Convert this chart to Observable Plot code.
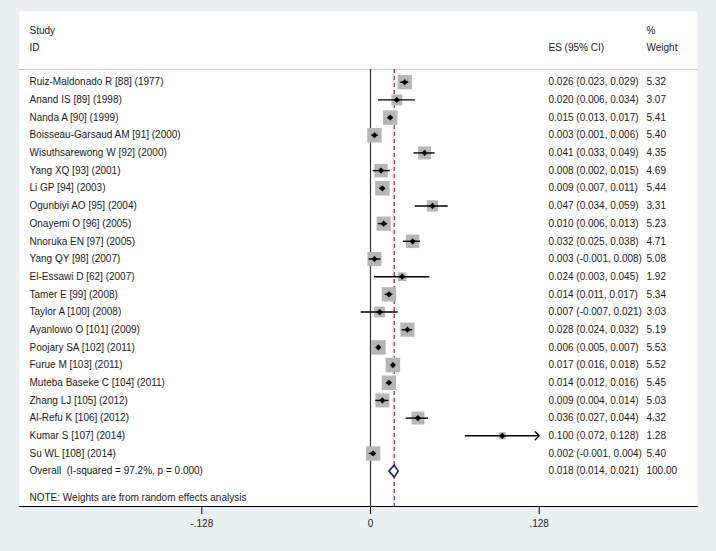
<!DOCTYPE html>
<html><head><meta charset="utf-8">
<script src="https://cdn.jsdelivr.net/npm/d3@7"></script>
<script src="https://cdn.jsdelivr.net/npm/@observablehq/plot@0.6"></script>
<style>
html,body{margin:0;padding:0;background:#e8f0f2;}
#chart svg{display:block;}
</style></head><body><div id="chart"></div>
<script>
// ---- data ----
const studyIds = [
  "Ruiz-Maldonado R [88] (1977)",
  "Anand IS [89] (1998)",
  "Nanda A [90] (1999)",
  "Boisseau-Garsaud AM [91] (2000)",
  "Wisuthsarewong W [92] (2000)",
  "Yang XQ [93] (2001)",
  "Li GP [94] (2003)",
  "Ogunbiyi AO [95] (2004)",
  "Onayemi O [96] (2005)",
  "Nnoruka EN [97] (2005)",
  "Yang QY [98] (2007)",
  "El-Essawi D [62] (2007)",
  "Tamer E [99] (2008)",
  "Taylor A [100] (2008)",
  "Ayanlowo O [101] (2009)",
  "Poojary SA [102] (2011)",
  "Furue M [103] (2011)",
  "Muteba Baseke C [104] (2011)",
  "Zhang LJ [105] (2012)",
  "Al-Refu K [106] (2012)",
  "Kumar S [107] (2014)",
  "Su WL [108] (2014)"
];
const es     = [0.026, 0.020, 0.015, 0.003, 0.041, 0.008, 0.009, 0.047, 0.010, 0.032, 0.003, 0.024, 0.014, 0.007, 0.028, 0.006, 0.017, 0.014, 0.009, 0.036, 0.100, 0.002];
const lower  = [0.023, 0.006, 0.013, 0.001, 0.033, 0.002, 0.007, 0.034, 0.006, 0.025, -0.001, 0.003, 0.011, -0.007, 0.024, 0.005, 0.016, 0.012, 0.004, 0.027, 0.072, -0.001];
const upper  = [0.029, 0.034, 0.017, 0.006, 0.049, 0.015, 0.011, 0.059, 0.013, 0.038, 0.008, 0.045, 0.017, 0.021, 0.032, 0.007, 0.018, 0.016, 0.014, 0.044, 0.128, 0.004];
const weights = [5.32, 3.07, 5.41, 5.40, 4.35, 4.69, 5.44, 3.31, 5.23, 4.71, 5.08, 1.92, 5.34, 3.03, 5.19, 5.53, 5.52, 5.45, 5.03, 4.32, 1.28, 5.40];
const overallLabel = "Overall  (I-squared = 97.2%, p = 0.000)";
const overallEs = 0.018, overallLo = 0.014, overallHi = 0.021, overallW = 100.00;
const xTicks = [-0.128, 0, 0.128];
const headerLeft = ["Study", "ID"];
const headerEs = "ES (95% CI)";
const headerW = ["%", "Weight"];
const noteText = "NOTE: Weights are from random effects analysis";

// ---- derived table ----
const rows = studyIds.map((id, i) => ({id, es: es[i], lo: lower[i], hi: upper[i], w: weights[i], row: i}));
const overallRow = rows.length;
const overall = [{id: overallLabel, es: overallEs, lo: overallLo, hi: overallHi, w: overallW, row: overallRow}];
const ciText = d => `${d.es.toFixed(3)} (${d.lo.toFixed(3)}, ${d.hi.toFixed(3)})`;
const wText = d => d.w.toFixed(2);
const xMax = d3.max(xTicks);
const sepRow = -0.72, yTop = -4, yBottom = 24;
const dh = 0.34;
const diamond = [
  {x: overallLo, y: overallRow}, {x: overallEs, y: overallRow - dh},
  {x: overallHi, y: overallRow}, {x: overallEs, y: overallRow + dh},
  {x: overallLo, y: overallRow}
];
const tickFmt = d => d === 0 ? "0" : d.toFixed(3).replace("0.", ".");

const textCol = {frameAnchor: "left", textAnchor: "start", fill: "#1a1a1a"};

const chart = Plot.plot({
  width: 716, height: 551,
  marginLeft: 19, marginRight: 19, marginTop: 11, marginBottom: 45,
  style: {background: "#e8f0f2", fontFamily: "'Liberation Sans', Arial, sans-serif", fontSize: "10px", color: "#1a1a1a"},
  x: {domain: [-0.2663, 0.2481]},
  y: {domain: [yTop, yBottom], reverse: true, axis: null},
  r: {type: "sqrt", domain: [0, 1], range: [0, 3.5]},
  marks: [
    Plot.frame({fill: "white", stroke: "none"}),
    Plot.ruleY([sepRow], {stroke: "#c9c9c9", strokeWidth: 1}),
    Plot.ruleX([0], {y1: sepRow, y2: yBottom, stroke: "#333", strokeWidth: 1.2}),
    Plot.ruleX([overallEs], {y1: sepRow, y2: yBottom, stroke: "#8e1f30", strokeWidth: 1.2, strokeDasharray: "4,3"}),
    Plot.dot(rows, {x: "es", y: "row", r: "w", symbol: "square", fill: "#b6b6b6"}),
    Plot.ruleY(rows, {filter: d => d.hi < xMax, y: "row", x1: "lo", x2: "hi", stroke: "black", strokeWidth: 1.4}),
    Plot.arrow(rows, {filter: d => d.hi >= xMax, x1: "lo", x2: "hi", y1: "row", y2: "row", stroke: "black", strokeWidth: 1.4, headLength: 6, headAngle: 90}),
    Plot.dot(rows, {x: "es", y: "row", r: 2.8, symbol: "diamond2", fill: "black"}),
    Plot.line(diamond, {x: "x", y: "y", fill: "white", stroke: "#1c2a78", strokeWidth: 1.7}),
    Plot.text(rows.concat(overall), {...textCol, y: "row", text: "id", dx: 10}),
    Plot.text(rows.concat(overall), {...textCol, y: "row", text: ciText, dx: 529}),
    Plot.text(rows.concat(overall), {...textCol, y: "row", text: wText, dx: 627}),
    Plot.text(headerLeft, {...textCol, y: (d, i) => [-2.92, -1.94][i], text: d => d, dx: 10}),
    Plot.text([headerEs], {...textCol, y: [-1.94], text: d => d, dx: 529}),
    Plot.text(headerW, {...textCol, y: (d, i) => [-2.92, -1.94][i], text: d => d, dx: 627}),
    Plot.text([noteText], {...textCol, y: [23.5], text: d => d, dx: 10}),
    Plot.frame({anchor: "bottom", stroke: "black", strokeWidth: 1.2}),
    Plot.axisX({ticks: xTicks, tickFormat: tickFmt, tickSize: 8, tickPadding: 5, label: null, stroke: "black", fill: "#222", fontSize: 10})
  ]
});
document.getElementById("chart").appendChild(chart);
</script>
</body></html>
